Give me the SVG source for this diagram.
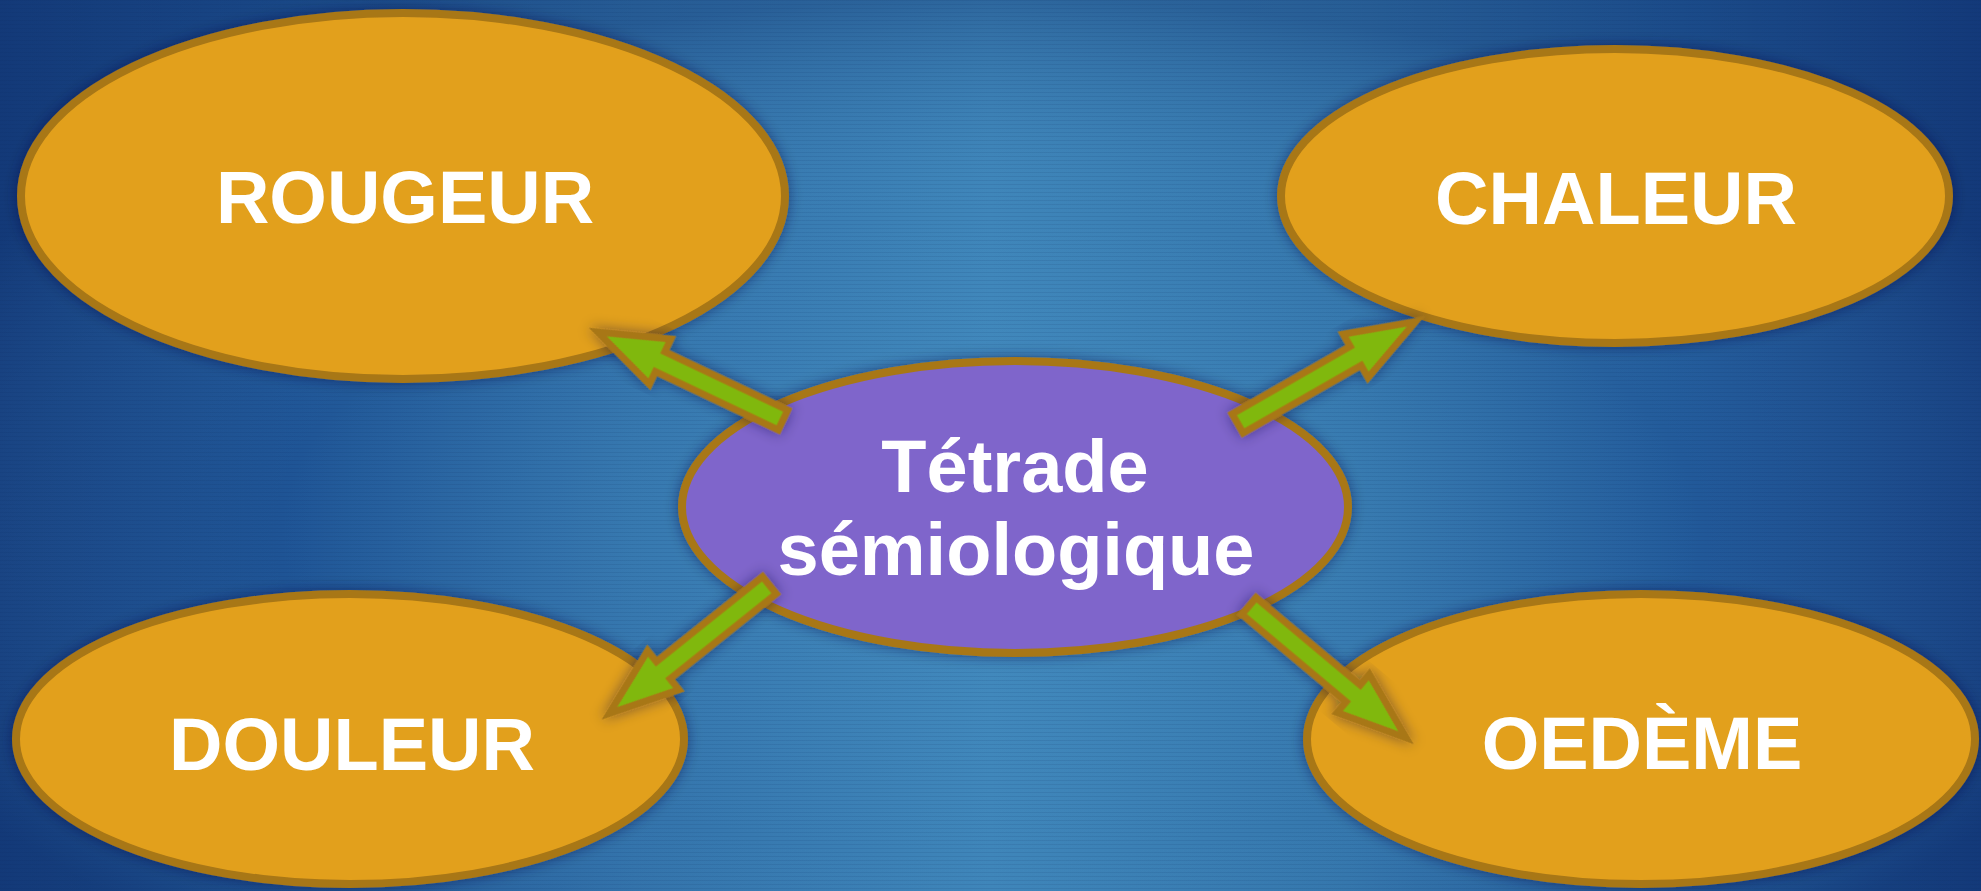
<svg xmlns="http://www.w3.org/2000/svg" width="1981" height="891" viewBox="0 0 1981 891">
  <defs>
    <linearGradient id="bgH" x1="0" y1="0" x2="1" y2="0">
      <stop offset="0" stop-color="#163f80"/>
      <stop offset="0.15" stop-color="#1f5596"/>
      <stop offset="0.32" stop-color="#3373ab"/>
      <stop offset="0.5" stop-color="#3f86ba"/>
      <stop offset="0.68" stop-color="#3577ad"/>
      <stop offset="0.85" stop-color="#225a9a"/>
      <stop offset="1" stop-color="#163f82"/>
    </linearGradient>
    <radialGradient id="bgR" cx="0.5" cy="0.6" r="0.6">
      <stop offset="0" stop-color="#4a94c6" stop-opacity="0.35"/>
      <stop offset="0.6" stop-color="#4a94c6" stop-opacity="0"/>
      <stop offset="1" stop-color="#0e2f6a" stop-opacity="0.35"/>
    </radialGradient>
    <pattern id="lines" width="8" height="4" patternUnits="userSpaceOnUse">
      <rect x="0" y="0" width="8" height="1" fill="#0a2a5a" opacity="0.10"/>
    </pattern>
    <filter id="shadow" x="-20%" y="-20%" width="140%" height="140%">
      <feDropShadow dx="0" dy="0" stdDeviation="7" flood-color="#0a1e40" flood-opacity="0.45"/>
    </filter>
    <path id="arrow" d="M0,-11 L136,-11 L136,-25 L205,0 L136,25 L136,11 L0,11 Z"/>
  </defs>
  <style>
    .sym { fill: #e2a01e; stroke: #a87718; stroke-width: 8; filter: url(#shadow); }
    .core { fill: #7f65cb; stroke: #a87718; stroke-width: 8; filter: url(#shadow); }
    .lbl { font-family: "Liberation Sans", Arial, sans-serif; font-weight: bold; font-size: 74px; fill: #ffffff; text-anchor: middle; }
    .arr { fill: #80b808; stroke: #a87718; stroke-width: 7; stroke-linejoin: miter; filter: url(#shadow); }
  </style>

  <rect x="0" y="0" width="1981" height="891" fill="url(#bgH)"/>
  <rect x="0" y="0" width="1981" height="891" fill="url(#bgR)"/>
  <rect x="0" y="0" width="1981" height="891" fill="url(#lines)"/>

  <g id="rougeur">
    <ellipse class="sym" cx="403" cy="196" rx="382" ry="183"/>
    <text class="lbl" x="405" y="223">ROUGEUR</text>
  </g>
  <g id="chaleur">
    <ellipse class="sym" cx="1615" cy="196" rx="334" ry="147"/>
    <text class="lbl" x="1616" y="224">CHALEUR</text>
  </g>
  <g id="douleur">
    <ellipse class="sym" cx="350" cy="739" rx="334" ry="145"/>
    <text class="lbl" x="352" y="770">DOULEUR</text>
  </g>
  <g id="oedeme">
    <ellipse class="sym" cx="1641" cy="739" rx="334" ry="145"/>
    <text class="lbl" x="1642" y="769">OEDÈME</text>
  </g>
  <g id="tetrade">
    <ellipse class="core" cx="1015" cy="507" rx="333" ry="146"/>
    <text class="lbl" x="1015" y="492">Tétrade</text>
    <text class="lbl" x="1016" y="575">sémiologique</text>
  </g>

  <g id="connectors">
    <use class="arr" href="#arrow" transform="translate(783,420) rotate(205.4)"/>
    <use class="arr" href="#arrow" transform="translate(1237.6,423.5) rotate(-29.8)"/>
    <use class="arr" href="#arrow" transform="translate(769.4,585.2) rotate(141.3)"/>
    <use class="arr" href="#arrow" transform="translate(1249,606) rotate(40)"/>
  </g>
</svg>
